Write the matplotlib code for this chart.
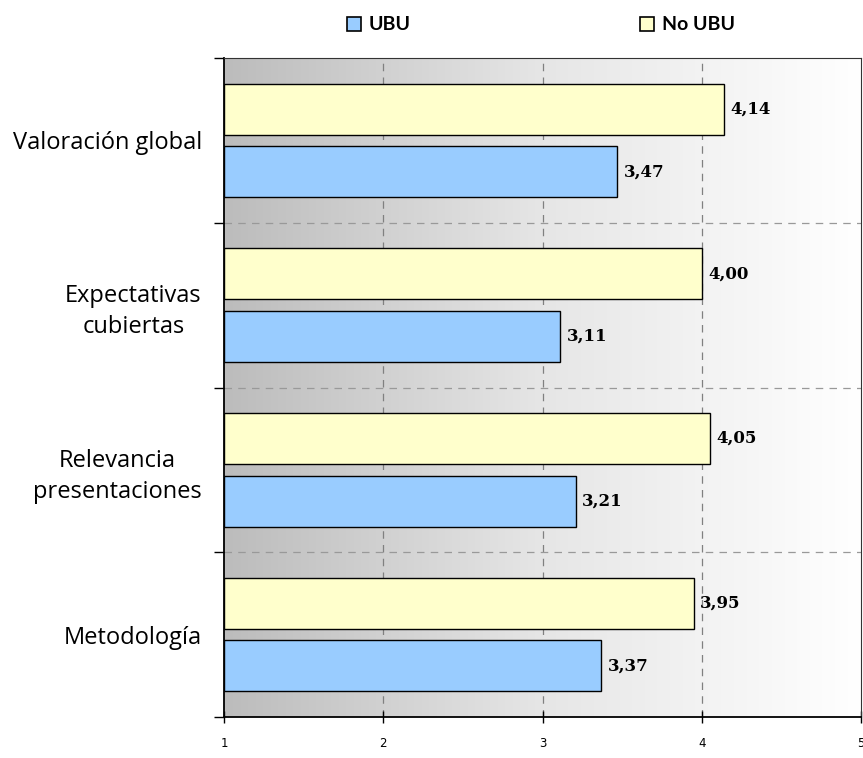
import numpy as np
import matplotlib
matplotlib.use("Agg")
import matplotlib.pyplot as plt
from matplotlib.patches import Patch
from matplotlib.colors import LinearSegmentedColormap

categories = ["Valoración global", "Expectativas\ncubiertas", "Relevancia\npresentaciones", "Metodología"]
series_names = ["UBU", "No UBU"]
ubu = [3.47, 3.11, 3.21, 3.37]
no_ubu = [4.14, 4.00, 4.05, 3.95]
xticks = [1, 2, 3, 4, 5]

fig = plt.figure(figsize=(8.63, 7.58), dpi=100)
ax = fig.add_axes([224/863, 1-717/758, (861-224)/863, (717-58)/758])

# gradient background
grad = np.linspace(0, 1, 256).reshape(1, -1)
cmap = LinearSegmentedColormap.from_list("g", ["#bcbcbc", "#e6e6e6", "#ffffff"])
ax.imshow(grad, extent=[1, 5, 4, 0], aspect="auto", cmap=cmap, zorder=0)

n = len(categories)
centers = np.arange(n) + 0.5
h = 0.31
off = 0.19
ax.barh(centers - off, [v - 1 for v in no_ubu], left=1, height=h, color="#ffffcc",
        edgecolor="black", linewidth=1, zorder=3)
ax.barh(centers + off, [v - 1 for v in ubu], left=1, height=h, color="#99ccff",
        edgecolor="black", linewidth=1, zorder=3)

for c, v in zip(centers, no_ubu):
    ax.text(v + 0.04, c - off, f"{v:.2f}".replace(".", ","), va="center", ha="left",
            fontsize=12, fontweight="bold", family="DejaVu Serif", zorder=4)
for c, v in zip(centers, ubu):
    ax.text(v + 0.04, c + off, f"{v:.2f}".replace(".", ","), va="center", ha="left",
            fontsize=12, fontweight="bold", family="DejaVu Serif", zorder=4)

ax.set_xlim(1, 5)
ax.set_ylim(4, 0)
ax.set_xticks(xticks)
ax.set_xticklabels([str(t) for t in xticks], fontsize=8.5, family="DejaVu Sans")
ax.tick_params(axis="x", direction="inout", length=9, width=1, pad=10)
ax.set_yticks(np.arange(n + 1))
ax.set_yticklabels([])
ax.tick_params(axis="y", direction="out", length=7, width=1)
ax.set_yticks(centers, minor=True)
ax.set_yticklabels(categories, minor=True, fontsize=17, family="Open Sans",
                   ha="right", multialignment="center", linespacing=1.4)
ax.tick_params(axis="y", which="minor", length=0, pad=16)

for x in xticks[1:-1]:
    ax.axvline(x, color="#808080", linestyle=(0, (6, 5)), linewidth=0.9, zorder=1)
for y in range(1, n):
    ax.axhline(y, color="#999999", linestyle=(0, (6, 5)), linewidth=0.9, zorder=1)

for s in ax.spines.values():
    s.set_color("black")
    s.set_linewidth(1)
ax.spines["left"].set_linewidth(1.3)
ax.spines["bottom"].set_linewidth(1.3)
ax.spines["right"].set_linewidth(0.8)
ax.spines["right"].set_color("#333333")
ax.spines["top"].set_linewidth(0.8)
ax.spines["top"].set_color("#333333")

handles = [Patch(facecolor="#99ccff", edgecolor="black", linewidth=1.2),
           Patch(facecolor="#ffffcc", edgecolor="black", linewidth=1.2)]
leg = fig.legend(handles, series_names, loc="center", bbox_to_anchor=(0.627, 1 - 25/758),
                 ncol=2, frameon=False, handlelength=0.7, handleheight=0.7, handletextpad=0.4,
                 columnspacing=11.8, prop={"family": "Lato", "weight": "bold", "size": 14})

fig.savefig("out.png", dpi=100)
